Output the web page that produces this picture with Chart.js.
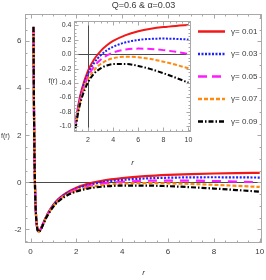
<!DOCTYPE html>
<html><head><meta charset="utf-8">
<script src="https://cdn.jsdelivr.net/npm/chart.js@4/dist/chart.umd.min.js"></script>
<style>
html,body{margin:0;padding:0;background:#fff;}
#wrap{position:relative;width:266px;height:280px;}
canvas{position:absolute;left:0;top:0;}
</style></head><body>
<div id="wrap"><canvas id="main" width="266" height="280"></canvas><canvas id="inset" width="266" height="280"></canvas></div>
<script>
// ---- data ----
const rValues = [0.13,0.14,0.15,0.16,0.18,0.2,0.22,0.25,0.3,0.33,0.36,0.4,0.45,0.6,0.7,0.8,1,1.25,1.5,2,2.5,3,3.5,4,5,6,7,8,9,10];
const fGamma001 = [6.616,4.780,3.366,2.261,0.698,-0.302,-0.955,-1.543,-1.970,-2.058,-2.082,-2.054,-1.972,-1.639,-1.429,-1.246,-0.950,-0.682,-0.488,-0.230,-0.067,0.043,0.123,0.183,0.264,0.317,0.352,0.376,0.392,0.404];
const fGamma003 = [6.613,4.777,3.362,2.258,0.695,-0.306,-0.960,-1.548,-1.976,-2.065,-2.089,-2.062,-1.981,-1.651,-1.443,-1.262,-0.970,-0.707,-0.518,-0.270,-0.117,-0.017,0.053,0.103,0.164,0.197,0.212,0.216,0.212,0.204];
const fGamma005 = [6.611,4.774,3.360,2.255,0.691,-0.310,-0.964,-1.553,-1.982,-2.072,-2.096,-2.070,-1.990,-1.663,-1.457,-1.278,-0.990,-0.732,-0.548,-0.310,-0.167,-0.077,-0.017,0.023,0.064,0.077,0.072,0.056,0.032,0.004];
const fGamma007 = [6.608,4.771,3.357,2.252,0.687,-0.314,-0.968,-1.558,-1.988,-2.078,-2.103,-2.078,-1.999,-1.675,-1.471,-1.294,-1.010,-0.757,-0.578,-0.350,-0.217,-0.137,-0.087,-0.057,-0.036,-0.043,-0.068,-0.104,-0.148,-0.196];
const fGamma009 = [6.605,4.768,3.354,2.249,0.684,-0.318,-0.973,-1.563,-1.994,-2.085,-2.110,-2.086,-2.008,-1.687,-1.485,-1.310,-1.030,-0.782,-0.608,-0.390,-0.267,-0.197,-0.157,-0.137,-0.136,-0.163,-0.208,-0.264,-0.328,-0.396];
const seriesLabels = ['γ= 0.01','γ= 0.03','γ= 0.05','γ= 0.07','γ= 0.09'];
const titleText = 'Q=0.6 & α=0.03';
const mainXTicks = [0,2,4,6,8,10];
const mainYTicks = [-2,0,2,4,6];
const insetXTicks = [2,4,6,8,10];
const insetYTicks = [-1.0,-0.8,-0.6,-0.4,-0.2,0.0,0.2,0.4];
const insetStartR = 1;
const insetAxisX = 2;

// ---- styles ----
const allSeries = [fGamma001,fGamma003,fGamma005,fGamma007,fGamma009];
const colors = ['#f01818','#1f1fff','#ff1aff','#ff8a10','#000000'];
const mainDash = [[],[2,1.6],[9,7],[4,2],[5,2,1.5,2]];
const insetDash = [[],[2,1.5],[7,4],[4,2],[5,2,1.5,2]];
const legendDash = [[],[2,1.5],[9,5],[4,2],[5,2,1.5,2]];
const FONT = "'Liberation Sans', Arial, sans-serif";
const frameColor = '#a8a8a8';
const labelColor = '#3a3a3a';

function buildSets(dash, width, fromR){
  return allSeries.map((arr,i)=>({
    label: seriesLabels[i],
    data: rValues.map((r,k)=>({x:r,y:arr[k]})).filter(p=>p.x>=fromR),
    borderColor: colors[i], borderWidth: width, borderDash: dash[i],
    pointRadius: 0, fill:false, cubicInterpolationMode:'monotone',
    order: allSeries.length-1-i
  }));
}

function drawFrame(chart, cfg){
  const {ctx, chartArea:a} = chart; const xs=chart.scales.x, ys=chart.scales.y;
  ctx.save();
  ctx.strokeStyle=frameColor; ctx.lineWidth=1;
  const L=Math.round(a.left)+0.5, R=Math.round(a.right)-0.5, T=Math.round(a.top)+0.5, B=Math.round(a.bottom)-0.5;
  ctx.strokeRect(L,T,R-L,B-T);
  ctx.beginPath();
  for(let k=Math.ceil(xs.min/cfg.xMinor); k*cfg.xMinor<=xs.max+1e-9; k++){
    const v=k*cfg.xMinor; const maj=Math.abs(v/cfg.xMajor-Math.round(v/cfg.xMajor))<1e-6;
    const len=maj?cfg.majorLen:cfg.minorLen; const px=Math.round(xs.getPixelForValue(v))+0.5;
    ctx.moveTo(px,B); ctx.lineTo(px,B-len); ctx.moveTo(px,T); ctx.lineTo(px,T+len);
  }
  for(let k=Math.ceil(ys.min/cfg.yMinor); k*cfg.yMinor<=ys.max+1e-9; k++){
    const v=k*cfg.yMinor; const maj=Math.abs(v/cfg.yMajor-Math.round(v/cfg.yMajor))<1e-6;
    const len=maj?cfg.majorLen:cfg.minorLen; const py=Math.round(ys.getPixelForValue(v))+0.5;
    ctx.moveTo(L,py); ctx.lineTo(L+len,py); ctx.moveTo(R,py); ctx.lineTo(R-len,py);
  }
  ctx.stroke();
  // labels
  ctx.fillStyle=labelColor; ctx.font=cfg.tickFont;
  ctx.textAlign='center'; ctx.textBaseline='middle';
  cfg.xTicks.forEach(v=>ctx.fillText(cfg.xFmt(v), xs.getPixelForValue(v), B+cfg.xLabelOff));
  ctx.textAlign='right';
  cfg.yTicks.forEach(v=>ctx.fillText(cfg.yFmt(v), L-cfg.yLabelOff, ys.getPixelForValue(v)));
  ctx.restore();
}

const mainPlugin = {
  id:'mainDeco',
  beforeDraw(chart){ const c=chart.ctx; c.save(); c.fillStyle='#fff'; c.fillRect(0,0,chart.width,chart.height); c.restore(); },
  beforeDatasetsDraw(chart){
    const {ctx, chartArea:a} = chart; const ys=chart.scales.y;
    ctx.save(); ctx.strokeStyle='#4a4a4a'; ctx.lineWidth=1;
    const py=Math.round(ys.getPixelForValue(0))+0.5;
    ctx.beginPath(); ctx.moveTo(a.left,py); ctx.lineTo(a.right,py); ctx.stroke(); ctx.restore();
  },
  afterDraw(chart){
    drawFrame(chart,{xMinor:0.5,xMajor:2,yMinor:0.5,yMajor:2,majorLen:4,minorLen:2,
      tickFont:'8px '+FONT, xTicks:mainXTicks, yTicks:mainYTicks,
      xFmt:v=>String(v), yFmt:v=>String(v), xLabelOff:9, yLabelOff:4});
    const ctx=chart.ctx; const a=chart.chartArea;
    ctx.save(); ctx.fillStyle=labelColor; ctx.textBaseline='middle';
    ctx.font='9px '+FONT; ctx.textAlign='center';
    ctx.fillText(titleText,(a.left+a.right)/2,6);
    ctx.font='italic 8px '+FONT; ctx.fillText('r',(a.left+a.right)/2,273);
    ctx.font='7px '+FONT; ctx.textAlign='left'; ctx.fillText('f(r)',1,136);
    ctx.restore();
  }
};

const insetPlugin = {
  id:'insetDeco',
  beforeDraw(chart){ const c=chart.ctx, a=chart.chartArea; c.save(); c.fillStyle='#fff'; c.fillRect(a.left,a.top,a.right-a.left,a.bottom-a.top); c.restore(); },
  beforeDatasetsDraw(chart){
    const {ctx, chartArea:a} = chart; const xs=chart.scales.x, ys=chart.scales.y;
    ctx.save(); ctx.strokeStyle='#4a4a4a'; ctx.lineWidth=1;
    const py=Math.round(ys.getPixelForValue(0))+0.5, px=Math.round(xs.getPixelForValue(insetAxisX))+0.5;
    ctx.beginPath(); ctx.moveTo(a.left,py); ctx.lineTo(a.right,py); ctx.moveTo(px,a.top); ctx.lineTo(px,a.bottom); ctx.stroke(); ctx.restore();
  },
  afterDraw(chart){
    drawFrame(chart,{xMinor:0.5,xMajor:2,yMinor:0.05,yMajor:0.2,majorLen:4,minorLen:2,
      tickFont:'7px '+FONT, xTicks:insetXTicks, yTicks:insetYTicks,
      xFmt:v=>String(v), yFmt:v=>v.toFixed(1), xLabelOff:9, yLabelOff:3});
    const ctx=chart.ctx; const a=chart.chartArea;
    ctx.save(); ctx.fillStyle=labelColor; ctx.textBaseline='middle';
    ctx.font='italic 8px '+FONT; ctx.textAlign='center';
    ctx.fillText('r',(a.left+a.right)/2,163);
    ctx.font='7px '+FONT; ctx.fillText('f(r)',53,81);
    // legend
    chart.data.datasets.forEach((ds,i)=>{
      const y=31.5+i*22.5;
      ctx.save(); ctx.strokeStyle=ds.borderColor; ctx.lineWidth=2.5; ctx.setLineDash(legendDash[i]);
      ctx.beginPath(); ctx.moveTo(198,y); ctx.lineTo(225,y); ctx.stroke(); ctx.restore();
      ctx.font='8px '+FONT; ctx.textAlign='left'; ctx.fillStyle=labelColor;
      ctx.fillText(ds.label,231,y);
    });
    ctx.restore();
  }
};

Chart.defaults.font.family = FONT;

new Chart(document.getElementById('main'),{
  type:'line',
  data:{datasets:buildSets(mainDash,2.2,0)},
  options:{responsive:false,animation:false,events:[],
    layout:{padding:{left:25,right:4,top:14,bottom:37}},
    plugins:{legend:{display:false},tooltip:{enabled:false}},
    scales:{x:{type:'linear',min:-0.24,max:10.1,display:false},
            y:{type:'linear',min:-2.58,max:7.16,display:false}}},
  plugins:[mainPlugin]
});

new Chart(document.getElementById('inset'),{
  type:'line',
  data:{datasets:buildSets(insetDash,2,insetStartR)},
  options:{responsive:false,animation:false,events:[],
    layout:{padding:{left:74,right:75,top:21,bottom:148}},
    plugins:{legend:{display:false},tooltip:{enabled:false}},
    scales:{x:{type:'linear',min:0.88,max:10.2,display:false},
            y:{type:'linear',min:-1.08,max:0.46,display:false}}},
  plugins:[insetPlugin]
});
</script>
</body></html>
